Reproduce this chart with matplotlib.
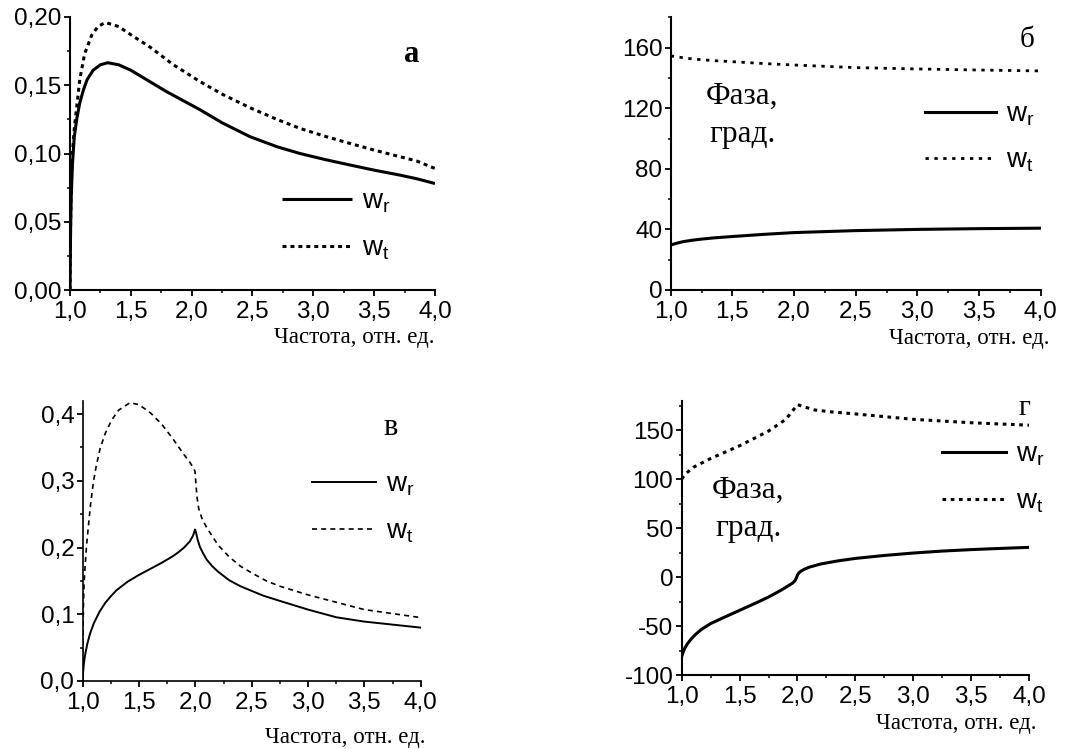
import matplotlib
matplotlib.use("Agg")
import matplotlib.pyplot as plt
from matplotlib.ticker import FixedLocator, FixedFormatter, MultipleLocator

plt.rcParams['font.family'] = ['Liberation Sans', 'DejaVu Sans']
plt.rcParams['mathtext.fontset'] = 'custom'
plt.rcParams['mathtext.rm'] = 'Liberation Sans'
plt.rcParams['mathtext.it'] = 'Liberation Sans'

# ---------------- data ----------------
xlabel_text = "Частота, отн. ед."
phase_text = "Фаза,\nград."
legend_labels = [r"$\mathrm{w}_\mathrm{r}$", r"$\mathrm{w}_\mathrm{t}$"]

x_ticks = [1.0, 1.5, 2.0, 2.5, 3.0, 3.5, 4.0]
x_ticklabels = ["1,0", "1,5", "2,0", "2,5", "3,0", "3,5", "4,0"]

# panel а
a_x_r = [1.0, 1.005, 1.01, 1.02, 1.035, 1.055, 1.08, 1.11, 1.14, 1.19, 1.25, 1.31,
         1.4, 1.5, 1.657, 1.8, 2.07, 2.25, 2.48, 2.7, 2.89, 3.1, 3.3, 3.5, 3.71, 3.85, 4.0]
a_wr = [0.0, 0.045, 0.068, 0.092, 0.112, 0.125, 0.137, 0.1465, 0.154, 0.161, 0.165, 0.1665,
        0.165, 0.161, 0.1526, 0.145, 0.132, 0.1225, 0.1123, 0.105, 0.100, 0.0955, 0.0916,
        0.0878, 0.0842, 0.0815, 0.078]
a_x_t = [1.0, 1.005, 1.01, 1.02, 1.035, 1.05, 1.08, 1.12, 1.18, 1.23, 1.29, 1.4, 1.5,
         1.657, 1.85, 2.07, 2.25, 2.48, 2.7, 2.89, 3.1, 3.3, 3.5, 3.71, 3.85, 4.0]
a_wt = [0.0, 0.05, 0.075, 0.100, 0.118, 0.130, 0.154, 0.173, 0.187, 0.193, 0.196, 0.193,
        0.187, 0.178, 0.165, 0.1526, 0.1435, 0.1335, 0.125, 0.1184, 0.1125, 0.1074, 0.1025,
        0.0977, 0.0945, 0.089]
a_yticks = [0.0, 0.05, 0.10, 0.15, 0.20]
a_yticklabels = ["0,00", "0,05", "0,10", "0,15", "0,20"]

# panel б
b_x = [1.0, 1.05, 1.1, 1.17, 1.25, 1.35, 1.5, 1.75, 2.0, 2.5, 3.0, 3.5, 4.0]
b_wr = [29.7, 30.9, 31.9, 32.8, 33.6, 34.4, 35.3, 36.7, 37.9, 39.2, 40.0, 40.5, 40.8]
b_wt = [154.5, 153.9, 153.3, 152.6, 152.0, 151.4, 150.7, 149.5, 148.5, 146.8, 145.9, 145.2, 144.6]
b_yticks = [0, 40, 80, 120, 160]
b_yticklabels = ["0", "40", "80", "120", "160"]

# panel в
c_x_t = [1.0, 1.002, 1.006, 1.012, 1.021, 1.035, 1.05, 1.07, 1.095, 1.12, 1.154, 1.2, 1.257,
         1.32, 1.42, 1.5, 1.6, 1.7, 1.8, 1.9, 1.95, 1.98, 1.997, 2.005, 2.015, 2.03, 2.06,
         2.1, 2.15, 2.2, 2.3, 2.4, 2.5, 2.63, 2.75, 3.0, 3.25, 3.5, 3.75, 4.0]
c_wt = [0.0, 0.06, 0.11, 0.145, 0.171, 0.205, 0.231, 0.265, 0.298, 0.322, 0.348, 0.371, 0.391,
        0.406, 0.417, 0.414, 0.402, 0.385, 0.363, 0.339, 0.328, 0.320, 0.314, 0.295, 0.275,
        0.258, 0.243, 0.230, 0.217, 0.204, 0.186, 0.172, 0.162, 0.150, 0.142, 0.129, 0.118,
        0.107, 0.101, 0.095]
c_x_r = [1.0, 1.003, 1.01, 1.02, 1.04, 1.065, 1.1, 1.15, 1.2, 1.25, 1.3, 1.4, 1.5, 1.6, 1.7,
         1.8, 1.85, 1.9, 1.95, 1.98, 1.997, 2.005, 2.02, 2.04, 2.07, 2.1, 2.15, 2.2, 2.3,
         2.4, 2.5, 2.6, 2.75, 3.0, 3.25, 3.5, 3.75, 4.0]
c_wr = [0.0, 0.012, 0.025, 0.038, 0.055, 0.071, 0.087, 0.104, 0.117, 0.127, 0.136, 0.149,
        0.159, 0.168, 0.177, 0.187, 0.193, 0.200, 0.209, 0.218, 0.227, 0.223, 0.212, 0.201,
        0.191, 0.182, 0.172, 0.164, 0.151, 0.142, 0.135, 0.128, 0.120, 0.107, 0.0955, 0.089,
        0.0845, 0.080]
c_yticks = [0.0, 0.1, 0.2, 0.3, 0.4]
c_yticklabels = ["0,0", "0,1", "0,2", "0,3", "0,4"]

# panel г
d_x_r = [1.0, 1.01, 1.025, 1.05, 1.08, 1.12, 1.17, 1.25, 1.35, 1.5, 1.65, 1.75, 1.85, 1.92,
         1.96, 1.98, 1.99, 2.0, 2.01, 2.03, 2.06, 2.1, 2.2, 2.35, 2.5, 2.75, 3.0, 3.25,
         3.5, 3.75, 4.0]
d_wr = [-81, -77.5, -73, -68, -63.5, -58.5, -53.5, -47.5, -42, -34, -26, -20.4, -14, -9,
        -6, -3.5, -1, 2, 4, 6, 8, 10, 13.3, 16.5, 19, 22, 24.5, 26.5, 28, 29.2, 30.3]
d_x_t = [1.0, 1.03, 1.1, 1.25, 1.5, 1.75, 1.9, 2.0, 2.05, 2.15, 2.3, 2.5, 3.0, 3.5, 4.0]
d_wt = [100, 105, 112, 121, 134, 149, 161, 176, 174, 170.5, 168.5, 166.5, 161, 157.5, 155]
d_yticks = [-100, -50, 0, 50, 100, 150]
d_yticklabels = ["-100", "-50", "0", "50", "100", "150"]

# ---------------- figure ----------------
W, H = 1078, 749
fig = plt.figure(figsize=(W / 100, H / 100), dpi=100)


def fr(l, t, r, b):
    return [l / W, 1 - b / H, (r - l) / W, (b - t) / H]


axa = fig.add_axes(fr(70, 17, 435, 290))
axb = fig.add_axes(fr(670.7, 17.3, 1040.7, 290))
axc = fig.add_axes(fr(82.7, 400.7, 420.7, 681))
axd = fig.add_axes(fr(681.7, 400.7, 1029, 675))

TICKFS = 17.5
SERIF = ["Liberation Serif", "DejaVu Serif"]


def style(ax, ylim, yticks, yticklabels, yminor, lw_axis=1.5):
    ax.set_xlim(1.0, 4.0)
    ax.set_ylim(*ylim)
    for s in ("top", "right"):
        ax.spines[s].set_visible(False)
    for s in ("left", "bottom"):
        ax.spines[s].set_linewidth(lw_axis)
    ax.xaxis.set_major_locator(FixedLocator(x_ticks))
    ax.xaxis.set_major_formatter(FixedFormatter(x_ticklabels))
    ax.xaxis.set_minor_locator(MultipleLocator(0.25))
    ax.yaxis.set_major_locator(FixedLocator(yticks))
    ax.yaxis.set_major_formatter(FixedFormatter(yticklabels))
    ax.yaxis.set_minor_locator(MultipleLocator(yminor))
    ax.tick_params(which="major", direction="out", length=4.5, width=1.3,
                   labelsize=TICKFS)
    ax.tick_params(axis="y", which="major", pad=1.5)
    ax.tick_params(axis="x", which="major", pad=3.5)
    ax.tick_params(which="minor", direction="out", length=2.5, width=1.1)
    ax.patch.set_alpha(0)


def xlab(ax, dx, dy):
    ax.annotate(xlabel_text, xy=(1, 0), xycoords="axes fraction",
                xytext=(dx, dy), textcoords="offset pixels", ha="right", va="top",
                family=SERIF, fontsize=16.5)


def letter(ax, s, x, y, bold=False, fs=21):
    ax.text(x, y, s, transform=ax.transAxes, ha="center", va="center",
            family=SERIF, fontsize=fs, fontweight="bold" if bold else "normal")


def leg(ax, x, y, hl):
    ax.legend(legend_labels, loc="upper left", bbox_to_anchor=(x, y), frameon=False,
              borderaxespad=0, borderpad=0, handlelength=hl * 19 / 20, handletextpad=0.35,
              labelspacing=0.72, prop={"family": "Liberation Sans", "size": 20})


def phase(ax, x, y):
    ax.text(x, y, phase_text, transform=ax.transAxes, ha="center", va="center",
            family=SERIF, fontsize=22.5, linespacing=1.4)


# а
axa.plot(a_x_r, a_wr, color="black", lw=2.2, solid_capstyle="butt")
axa.plot(a_x_t, a_wt, color="black", lw=2.2, linestyle=(0, (1.3, 1.3)))
style(axa, (0, 0.20), a_yticks, a_yticklabels, 0.025)
leg(axa, 0.581, 0.37, 2.65)
letter(axa, "а", 0.936, 0.861, bold=True, fs=22)
xlab(axa, 0, -37)

# б
axb.plot(b_x, b_wr, color="black", lw=2.2)
axb.plot(b_x, b_wt, color="black", lw=2.0, linestyle=(0, (1.2, 2.0)))
style(axb, (0, 180), b_yticks, b_yticklabels, 20)
leg(axb, 0.687, 0.692, 2.7)
letter(axb, "б", 0.963, 0.917, fs=21)
phase(axb, 0.193, 0.640)
xlab(axb, 9, -38)

# в
axc.plot(c_x_r, c_wr, color="black", lw=1.4)
axc.plot(c_x_t, c_wt, color="black", lw=1.2, linestyle=(0, (3, 2.5)))
style(axc, (0, 0.42), c_yticks, c_yticklabels, 0.05, lw_axis=1.2)
leg(axc, 0.677, 0.746, 2.45)
letter(axc, "в", 0.912, 0.906, fs=22)
xlab(axc, 5, -46)

# г
axd.plot(d_x_r, d_wr, color="black", lw=2.2)
axd.plot(d_x_t, d_wt, color="black", lw=2.2, linestyle=(0, (1.2, 1.5)))
style(axd, (-100, 180), d_yticks, d_yticklabels, 25)
leg(axd, 0.749, 0.85, 2.45)
letter(axd, "г", 0.988, 0.973, fs=21)
phase(axd, 0.192, 0.603)
xlab(axd, 8, -38)

fig.savefig("out.png", dpi=100)
